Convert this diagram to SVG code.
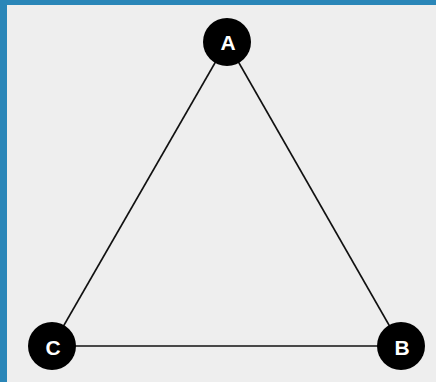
<svg xmlns="http://www.w3.org/2000/svg" width="436" height="382" viewBox="0 0 436 382">
<style>
.edge{stroke:#111;stroke-width:1.6;fill:none}
.node circle{fill:#000}
.node text{fill:#fff;font-family:"Liberation Sans",Arial,sans-serif;font-weight:bold;font-size:21px;text-anchor:middle;dominant-baseline:central}
</style>
<rect x="0" y="0" width="436" height="382" fill="#2a86b8"/>
<rect x="7" y="5" width="429" height="377" fill="#eeeeee"/>
<g id="connectors">
<line class="edge" x1="227" y1="42" x2="401" y2="346"/>
<line class="edge" x1="227" y1="42" x2="52" y2="346"/>
<line class="edge" x1="52" y1="346" x2="401" y2="346"/>
</g>
<g id="node-A" class="node"><circle cx="227" cy="42" r="24"/><text x="228" y="42">A</text></g>
<g id="node-B" class="node"><circle cx="401" cy="346" r="24"/><text x="402" y="347">B</text></g>
<g id="node-C" class="node"><circle cx="52" cy="346" r="24"/><text x="53" y="347">C</text></g>
</svg>
